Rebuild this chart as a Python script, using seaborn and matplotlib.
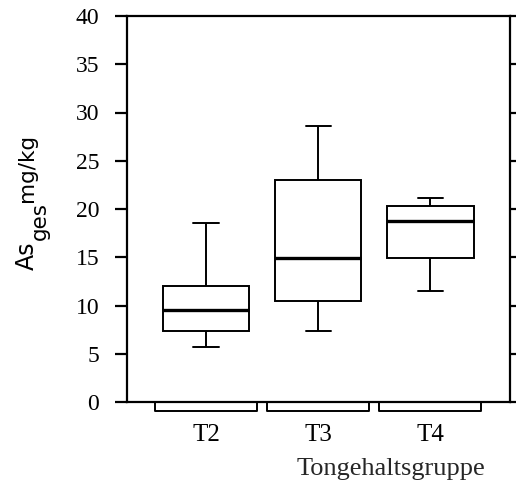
import pandas as pd
import numpy as np
import matplotlib
matplotlib.use('Agg')
import matplotlib.pyplot as plt
import matplotlib.transforms as mtransforms
import seaborn as sns

# values (5 points per group: whisker low, q1, median, q3, whisker high)
groups = ['T2', 'T3', 'T4']
t2_values = [5.7, 7.4, 9.5, 12.0, 18.6]
t3_values = [7.4, 10.5, 14.9, 23.0, 28.6]
t4_values = [11.5, 14.9, 18.8, 20.3, 21.1]
y_ticks = [0, 5, 10, 15, 20, 25, 30, 35, 40]

data = pd.DataFrame({
    'Gruppe': ['T2'] * len(t2_values) + ['T3'] * len(t3_values) + ['T4'] * len(t4_values),
    'As': t2_values + t3_values + t4_values,
})

sns.set_style('ticks')
plt.rcParams['font.family'] = ['Liberation Serif', 'DejaVu Serif']

W, H = 516, 482
fig = plt.figure(figsize=(W / 100, H / 100), dpi=100)
ax = fig.add_axes([127 / W, 1 - 402 / H, 383 / W, 386 / H])

sns.boxplot(data=data, x='Gruppe', y='As', order=groups, whis=(0, 100), width=0.77,
            color='white', linecolor='black', linewidth=1.4, capwidths=0.225,
            medianprops={'linewidth': 2.4}, ax=ax)

ax.set_xlim(-0.705, 2.71)
ax.set_ylim(0, 40)
ax.set_yticks(y_ticks)

for side in ['left', 'right', 'top', 'bottom']:
    ax.spines[side].set_visible(True)
    ax.spines[side].set_linewidth(1.6)
    ax.spines[side].set_color('black')

ax.tick_params(axis='y', which='both', direction='out', length=8.5, width=1.6,
               left=True, right=True, labelleft=True, labelright=False,
               labelsize=17, pad=11.5, colors='black')
ax.tick_params(axis='x', length=0, labelsize=18, pad=16, colors='black')

# open brackets under each group
trans = mtransforms.blended_transform_factory(ax.transData, ax.transAxes)
for i in range(len(groups)):
    bx = [i - 0.455, i - 0.455, i + 0.455, i + 0.455]
    by = [0, -0.024, -0.024, 0]
    ax.plot(bx, by, color='black', linewidth=1.4, transform=trans, clip_on=False)

ax.set_xlabel('Tongehaltsgruppe', fontsize=19)
ax.xaxis.set_label_coords(0.688, -0.145)
ax.set_ylabel('')

# y label: As with subscript "ges" followed by "mg/kg", built from three rotated texts
renderer = fig.canvas.get_renderer()
lab_kw = dict(rotation=90, rotation_mode='anchor', ha='left', va='baseline',
              family='DejaVu Sans', color='black')
t_as = fig.text(33.7 / W, 1 - 270 / H, 'As', fontsize=17, **lab_kw)
y_end = t_as.get_window_extent(renderer).y1
t_ges = fig.text(45.5 / W, (y_end + 1.5) / H, 'ges', fontsize=15.5, **lab_kw)
y_end = t_ges.get_window_extent(renderer).y1
fig.text(32.7 / W, (y_end + 0.5) / H, 'mg/kg', fontsize=15.5, **lab_kw)

fig.savefig('out.png', dpi=100)
